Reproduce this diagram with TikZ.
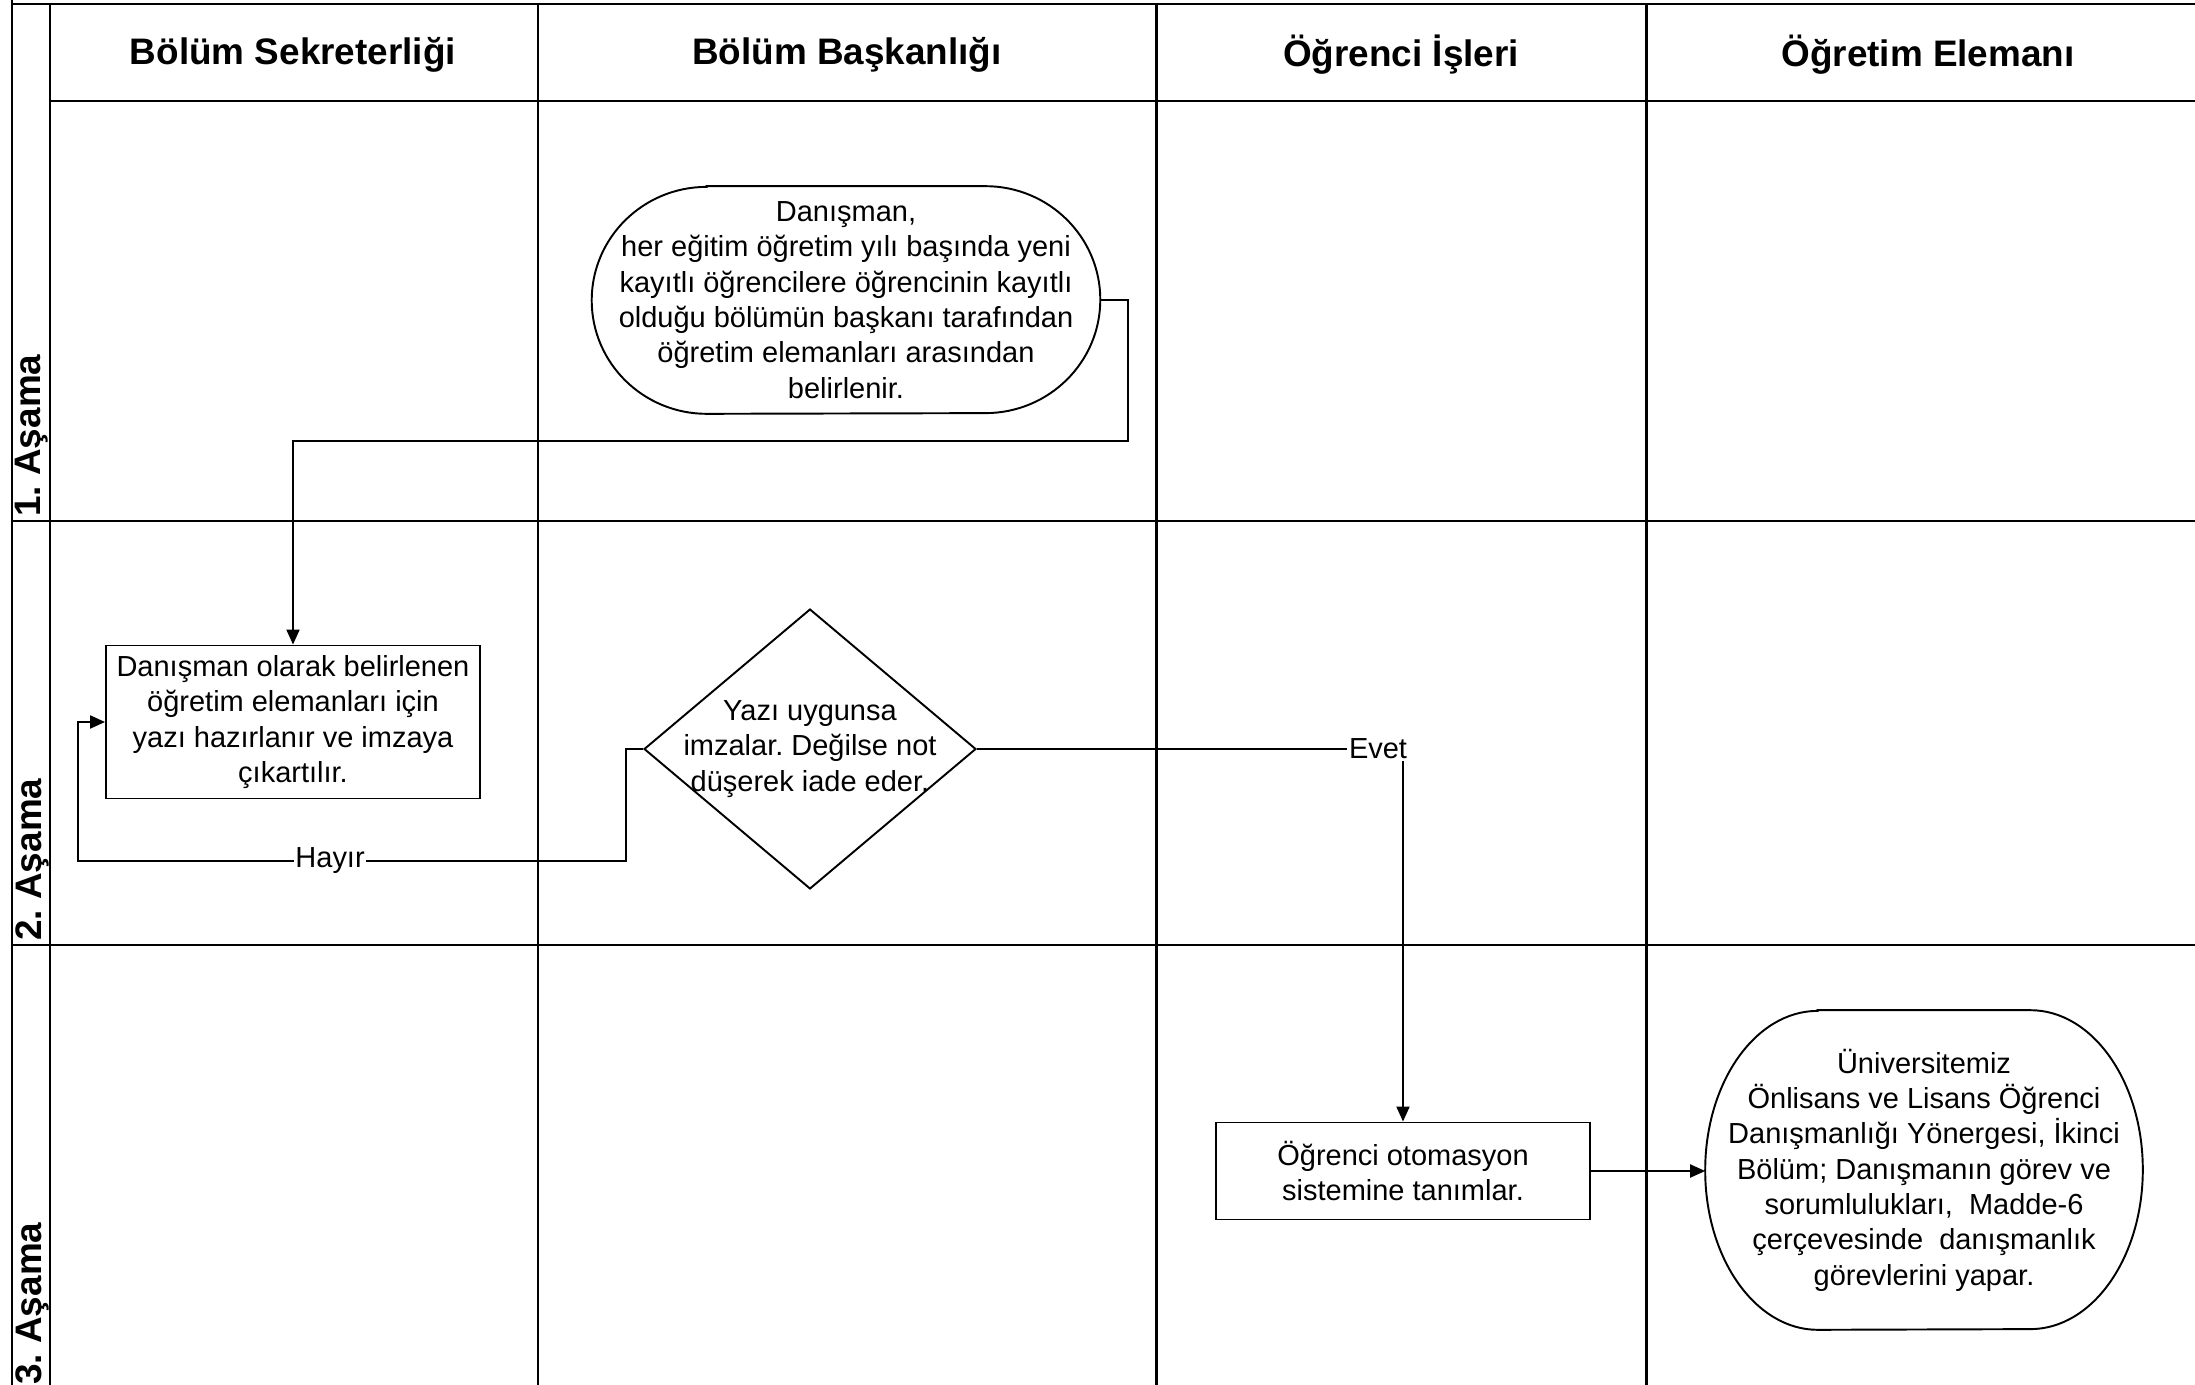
\documentclass[tikz,border=0pt]{standalone}
\usepackage{fontspec}
\setmainfont{Liberation Sans}
\usetikzlibrary{arrows.meta,shapes.geometric}
\frenchspacing

% border of a terminal: flat top and bottom, elliptic ends
\newcommand{\termline}[3]{%
  \draw[shapeline] ([xshift=#2]#1.north west) -- ([xshift=-#2]#1.north east)
    arc[start angle=90, end angle=-90, x radius=#2, y radius=#3]
    -- ([xshift=#2]#1.south west)
    arc[start angle=270, end angle=90, x radius=#2, y radius=#3] -- cycle;}

\tikzset{
  lane/.style={line width=1.7pt},
  shapeline/.style={line width=1.1pt},
  txt/.style={font=\fontsize{16.5}{20.1}\selectfont, align=center, inner sep=0pt},
  head/.style={font=\fontsize{21}{25}\selectfont\bfseries},
  stage/.style={font=\fontsize{21}{25}\selectfont\bfseries, rotate=90, anchor=west, inner sep=0pt},
  process/.style={txt, draw, shapeline, rectangle, minimum width=7.48cm},
  decision/.style={draw, shapeline, diamond, minimum width=6.64cm, minimum height=5.6cm, inner sep=0pt},
  terminal/.style={txt},
  flow/.style={shapeline, -{Triangle[length=0.3cm, width=0.26cm]}},
  lbl/.style={font=\fontsize{16.5}{20.1}\selectfont, fill=white, inner sep=1pt}
}

\begin{document}
\begin{tikzpicture}[x=0.02cm, y=-0.02cm]
  \useasboundingbox (0,0) rectangle (2195,1385);
  \clip (0,0) rectangle (2195,1385);

  % Lanes and stages
  \draw[lane] (12,-10) -- (12,1400);
  \draw[lane] (12,4) -- (2210,4);
  \draw[lane] (50,4) -- (50,1400);
  \draw[lane] (50,101) -- (2210,101);
  \draw[lane] (12,521) -- (2210,521);
  \draw[lane] (12,945) -- (2210,945);
  \foreach \x in {538,1156,1646}
    \draw[lane] (\x,4) -- (\x,1400);

  \node[head] (sek) at (293,55) {Bölüm Sekreterliği};
  \node[head] (bas) at (847,55) {Bölüm Başkanlığı};
  \node[head] (ois) at (1401,55) {Öğrenci İşleri};
  \node[head] (oel) at (1928,55) {Öğretim Elemanı};

  \node[stage] (st1) at (32,517) {1. Aşama};
  \node[stage] (st2) at (32,941) {2. Aşama};
  \node[stage] (st3) at (32,1385) {3. Aşama};

  % Define nodes
  \node[terminal, minimum width=10.16cm, minimum height=4.54cm] (start) at (846,300)
    {Danışman,\\ her eğitim öğretim yılı başında yeni\\ kayıtlı öğrencilere öğrencinin kayıtlı\\
     olduğu bölümün başkanı tarafından\\ öğretim elemanları arasından\\ belirlenir.};
  \termline{start}{2.3cm}{2.27cm}

  \node[process, minimum height=3.06cm] (yazi) at (293,722)
    {Danışman olarak belirlenen\\ öğretim elemanları için\\ yazı hazırlanır ve imzaya\\ çıkartılır.};

  \node[decision] (imza) at (810,749) {};
  \node[txt] (imzatxt) at (imza.center)
    {Yazı uygunsa\\ imzalar. Değilse not\\ düşerek iade eder.};

  \node[process, minimum height=1.94cm] (otom) at (1403,1171)
    {Öğrenci otomasyon\\ sistemine tanımlar.};

  \node[terminal, minimum width=8.74cm, minimum height=6.38cm] (gorev) at (1924,1170)
    {Üniversitemiz\\ Önlisans ve Lisans Öğrenci\\ Danışmanlığı Yönergesi, İkinci\\
     Bölüm; Danışmanın görev ve\\ sorumlulukları,\ \ Madde-6\\ çerçevesinde\ \ danışmanlık\\
     görevlerini yapar.};
  \termline{gorev}{2.25cm}{3.19cm}

  % Connect the nodes
  \draw[flow] (start.east) -| (1128,441) -| (yazi.north);
  \draw[flow] (imza.west) -- (626,749) -- (626,861)
    -- node[lbl, pos=0.54] (hayir) {Hayır} (78,861) -- (78,722) -- (yazi.west);
  \node[lbl] (evet) at (1378,749) {Evet};
  \draw[shapeline] (imza.east) -- (evet.west);
  \draw[flow] (evet.south -| otom.north) -- (otom.north);
  \draw[flow] (otom.east) -- (otom.east -| gorev.west);

\end{tikzpicture}
\end{document}
